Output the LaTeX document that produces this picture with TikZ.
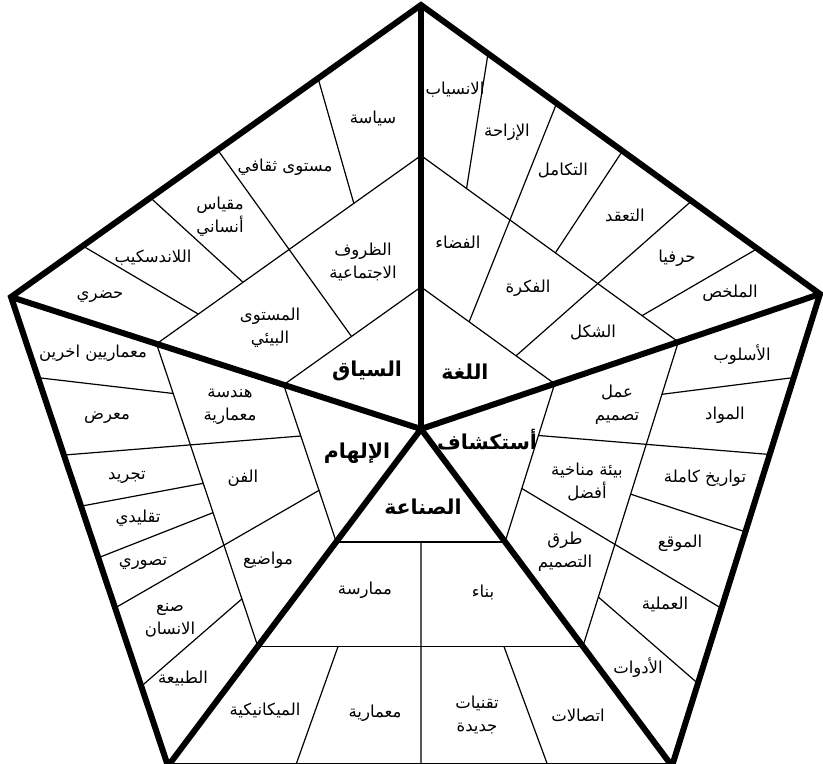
\documentclass[tikz,border=0pt]{standalone}
\usepackage{fontspec}
\usetikzlibrary{calc}
\setmainfont{DejaVu Sans}
\newfontfamily\arabicfont[Script=Arabic]{DejaVu Sans}
\TeXXeTstate=1
\newcommand{\artxt}[1]{\beginR #1\endR}
\begin{document}
\begin{tikzpicture}[x=1pt,y=-1pt,
  thinline/.style={line width=1.2pt},
  thickline/.style={line width=6pt, line join=miter},
  lbl/.style={font=\arabicfont\fontsize{16.5}{23}\selectfont, align=center, inner sep=0pt},
  big/.style={font=\arabicfont\bfseries\fontsize{20.5}{24}\selectfont, inner sep=0pt}]
\useasboundingbox (0,0) rectangle (823,764);
\fill[white] (0,0) rectangle (823,764);
% vertices
\coordinate (C) at (421,429);
\coordinate (T) at (421,5);
\coordinate (R) at (820,294);
\coordinate (BR) at (672,766);
\coordinate (BL) at (168,766);
\coordinate (L) at (11,297);
% ring lines
\foreach \p/\q/\n in {L/T/a, T/R/b, R/BR/c, BR/BL/d, BL/L/e} {
  \coordinate (\n i1) at ($(C)!0.335!(\p)$);
  \coordinate (\n i2) at ($(C)!0.335!(\q)$);
  \coordinate (\n m1) at ($(C)!0.645!(\p)$);
  \coordinate (\n m2) at ($(C)!0.645!(\q)$);
  \draw[thinline] (\n i1) -- (\n i2);
  \draw[thinline] (\n m1) -- (\n m2);
}
% sector a (L -> T)
\draw[thinline] ($(L)!0.175!(T)$) -- ($(am1)!0.158!(am2)$);
\draw[thinline] ($(L)!0.340!(T)$) -- ($(am1)!0.327!(am2)$);
\draw[thinline] ($(L)!0.504!(T)$) -- ($(ai1)!0.494!(ai2)$);
\draw[thinline] ($(L)!0.749!(T)$) -- ($(am1)!0.746!(am2)$);
% sector b (T -> R)
\draw[thinline] ($(T)!0.168!(R)$) -- ($(bm1)!0.177!(bm2)$);
\draw[thinline] ($(T)!0.340!(R)$) -- ($(bi1)!0.360!(bi2)$);
\draw[thinline] ($(T)!0.505!(R)$) -- ($(bm1)!0.522!(bm2)$);
\draw[thinline] ($(T)!0.678!(R)$) -- ($(bi1)!0.711!(bi2)$);
\draw[thinline] ($(T)!0.843!(R)$) -- ($(bm1)!0.859!(bm2)$);
% sector c (R -> BR)
\draw[thinline] ($(R)!0.177!(BR)$) -- ($(cm1)!0.172!(cm2)$);
\draw[thinline] ($(R)!0.340!(BR)$) -- ($(ci1)!0.327!(ci2)$);
\draw[thinline] ($(R)!0.504!(BR)$) -- ($(cm1)!0.500!(cm2)$);
\draw[thinline] ($(R)!0.666!(BR)$) -- ($(ci1)!0.662!(ci2)$);
\draw[thinline] ($(R)!0.825!(BR)$) -- ($(cm1)!0.838!(cm2)$);
% sector d (BR -> BL)
\draw[thinline] ($(BR)!0.246!(BL)$) -- ($(dm1)!0.243!(dm2)$);
\draw[thinline] ($(BR)!0.498!(BL)$) -- ($(di1)!0.498!(di2)$);
\draw[thinline] ($(BR)!0.747!(BL)$) -- ($(dm1)!0.753!(dm2)$);
% sector e (BL -> L)
\draw[thinline] ($(BL)!0.170!(L)$) -- ($(em1)!0.157!(em2)$);
\draw[thinline] ($(BL)!0.337!(L)$) -- ($(ei1)!0.328!(ei2)$);
\draw[thinline] ($(BL)!0.444!(L)$) -- ($(em1)!0.442!(em2)$);
\draw[thinline] ($(BL)!0.554!(L)$) -- ($(em1)!0.539!(em2)$);
\draw[thinline] ($(BL)!0.663!(L)$) -- ($(ei1)!0.674!(ei2)$);
\draw[thinline] ($(BL)!0.828!(L)$) -- ($(em1)!0.836!(em2)$);
% thick outline and spokes
\draw[thickline] (T) -- (R) -- (BR) -- (BL) -- (L) -- cycle;
\draw[thickline] (C) -- (T);
\draw[thickline] (C) -- (R);
\draw[thickline] (C) -- (BR);
\draw[thickline] (C) -- (BL);
\draw[thickline] (C) -- (L);
% sector a labels
\node[big] (a0) at (367,371) {\artxt{السياق}};
\node[lbl] (a1) at (373,118) {\artxt{سياسة}};
\node[lbl] (a2) at (285,167) {\artxt{مستوى ثقافي}};
\node[lbl] (a3) at (220,217) {\artxt{مقياس}\\\artxt{أنساني}};
\node[lbl] (a4) at (153,258) {\artxt{اللاندسكيب}};
\node[lbl] (a5) at (100,297) {\artxt{حضري}};
\node[lbl] (a6) at (363,262) {\artxt{الظروف}\\\artxt{الاجتماعية}};
\node[lbl] (a7) at (270,328) {\artxt{المستوى}\\\artxt{البيئي}};
% sector b labels
\node[big] (b0) at (465,372) {\artxt{اللغة}};
\node[lbl] (b1) at (455,90) {\artxt{الانسياب}};
\node[lbl] (b2) at (507,132) {\artxt{الإزاحة}};
\node[lbl] (b3) at (563,170) {\artxt{التكامل}};
\node[lbl] (b4) at (625,215) {\artxt{التعقد}};
\node[lbl] (b5) at (677,258) {\artxt{حرفيا}};
\node[lbl] (b6) at (730,293) {\artxt{الملخص}};
\node[lbl] (b7) at (458,242) {\artxt{الفضاء}};
\node[lbl] (b8) at (528,288) {\artxt{الفكرة}};
\node[lbl] (b9) at (593,332) {\artxt{الشكل}};
% sector c labels
\node[big] (c0) at (487,440) {\artxt{أستكشاف}};
\node[lbl] (c1) at (742,355) {\artxt{الأسلوب}};
\node[lbl] (c2) at (725,415) {\artxt{المواد}};
\node[lbl] (c3) at (705,478) {\artxt{تواريخ كاملة}};
\node[lbl] (c4) at (680,543) {\artxt{الموقع}};
\node[lbl] (c5) at (665,604) {\artxt{العملية}};
\node[lbl] (c6) at (638,668) {\artxt{الأدوات}};
\node[lbl] (c7) at (617,405) {\artxt{عمل}\\\artxt{تصميم}};
\node[lbl] (c8) at (587,482) {\artxt{بيئة مناخية}\\\artxt{أفضل}};
\node[lbl] (c9) at (565,552) {\artxt{طرق}\\\artxt{التصميم}};
% sector d labels
\node[big] (d0) at (423,507) {\artxt{الصناعة}};
\node[lbl] (d1) at (365,590) {\artxt{ممارسة}};
\node[lbl] (d2) at (483,592) {\artxt{بناء}};
\node[lbl] (d3) at (265,710) {\artxt{الميكانيكية}};
\node[lbl] (d4) at (375,713) {\artxt{معمارية}};
\node[lbl] (d5) at (477,715) {\artxt{تقنيات}\\\artxt{جديدة}};
\node[lbl] (d6) at (578,715) {\artxt{اتصالات}};
% sector e labels
\node[big] (e0) at (357,453) {\artxt{الإلهام}};
\node[lbl] (e1) at (93,353) {\artxt{معماريين اخرين}};
\node[lbl] (e2) at (107,418) {\artxt{معرض}};
\node[lbl] (e3) at (127,477) {\artxt{تجريد}};
\node[lbl] (e4) at (138,518) {\artxt{تقليدي}};
\node[lbl] (e5) at (143,563) {\artxt{تصوري}};
\node[lbl] (e6) at (170,620) {\artxt{صنع}\\\artxt{الانسان}};
\node[lbl] (e7) at (183,678) {\artxt{الطبيعة}};
\node[lbl] (e8) at (230,407) {\artxt{هندسة}\\\artxt{معمارية}};
\node[lbl] (e9) at (243,478) {\artxt{الفن}};
\node[lbl] (e10) at (268,560) {\artxt{مواضيع}};
\end{tikzpicture}
\end{document}
